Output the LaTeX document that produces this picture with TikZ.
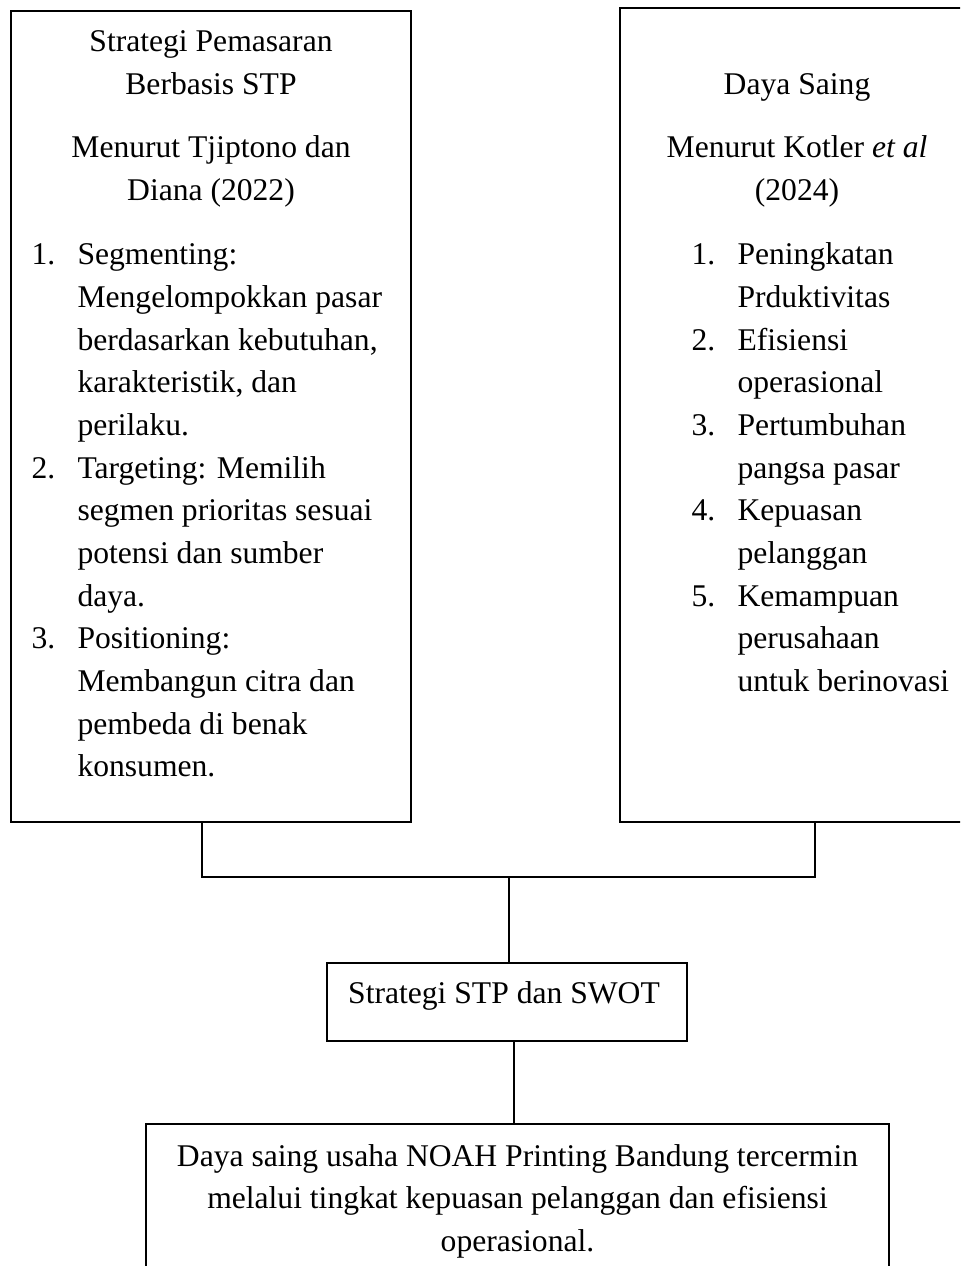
\documentclass[tikz,border=0pt]{standalone}
\usepackage{fontspec}
\setmainfont{Liberation Serif}
\usepackage{array}
\usetikzlibrary{fit}
\begin{document}
\begin{tikzpicture}[x=0.3797pt,y=-0.3797pt,
  box/.style={draw, line width=0.8pt, inner sep=0pt},
  conn/.style={draw, line width=0.55pt},
  txt/.style={inner sep=0pt, font=\fontsize{12pt}{16.2pt}\selectfont}]
\useasboundingbox (0,0) rectangle (960,1266);
\clip (0,0) rectangle (960,1266);

% boxes
\node[box, fit={(11,11) (411,822)}] (lbox) {};
\node[box, fit={(620,8) (975,822)}] (rbox) {};
\node[box, fit={(327,963) (687,1041)}] (mbox) {};
\node[box, fit={(146,1124) (889,1300)}] (bbox) {};

% left box text
\node[txt, anchor=base] (lhead) at (211,52)
  {\begin{tabular}[t]{@{}c@{}}Strategi Pemasaran\\Berbasis STP\end{tabular}};
\node[txt, anchor=base] (lsrc) at (211,158)
  {\begin{tabular}[t]{@{}c@{}}Menurut Tjiptono dan\\Diana (2022)\end{tabular}};
\node[txt, anchor=base west] (llist) at (31,265)
  {\begin{tabular}[t]{@{}p{17.47pt}@{}l@{}}
  1.&Segmenting:\\
    &Mengelompokkan pasar\\
    &berdasarkan kebutuhan,\\
    &karakteristik, dan\\
    &perilaku.\\
  2.&Targeting: Memilih\\
    &segmen prioritas sesuai\\
    &potensi dan sumber\\
    &daya.\\
  3.&Positioning:\\
    &Membangun citra dan\\
    &pembeda di benak\\
    &konsumen.
  \end{tabular}};

% right box text
\node[txt, anchor=base] (rhead) at (797,95) {Daya Saing};
\node[txt, anchor=base] (rsrc) at (797,158)
  {\begin{tabular}[t]{@{}c@{}}Menurut Kotler \textit{et al}\\(2024)\end{tabular}};
\node[txt, anchor=base west] (rlist) at (691,265)
  {\begin{tabular}[t]{@{}p{17.47pt}@{}l@{}}
  1.&Peningkatan\\
    &Prduktivitas\\
  2.&Efisiensi\\
    &operasional\\
  3.&Pertumbuhan\\
    &pangsa pasar\\
  4.&Kepuasan\\
    &pelanggan\\
  5.&Kemampuan\\
    &perusahaan\\
    &untuk berinovasi
  \end{tabular}};

% middle and bottom text
\node[txt, anchor=base] (mtext) at (504,1003) {Strategi STP dan SWOT};
\node[txt, anchor=base] (btext) at (517.5,1166)
  {\begin{tabular}[t]{@{}c@{}}Daya saing usaha NOAH Printing Bandung tercermin\\
   melalui tingkat kepuasan pelanggan dan efisiensi\\operasional.\end{tabular}};

% connectors
\coordinate (jl) at (202,877);
\coordinate (jr) at (815,877);
\coordinate (jm) at (509,877);
\coordinate (jb) at (514,1041);
\draw[conn] (lbox.south -| jl) -- (jl) -- (jr) -- (rbox.south -| jr);
\draw[conn] (jm) -- (mbox.north -| jm);
\draw[conn] (jb) -- (bbox.north -| jb);
\end{tikzpicture}
\end{document}
